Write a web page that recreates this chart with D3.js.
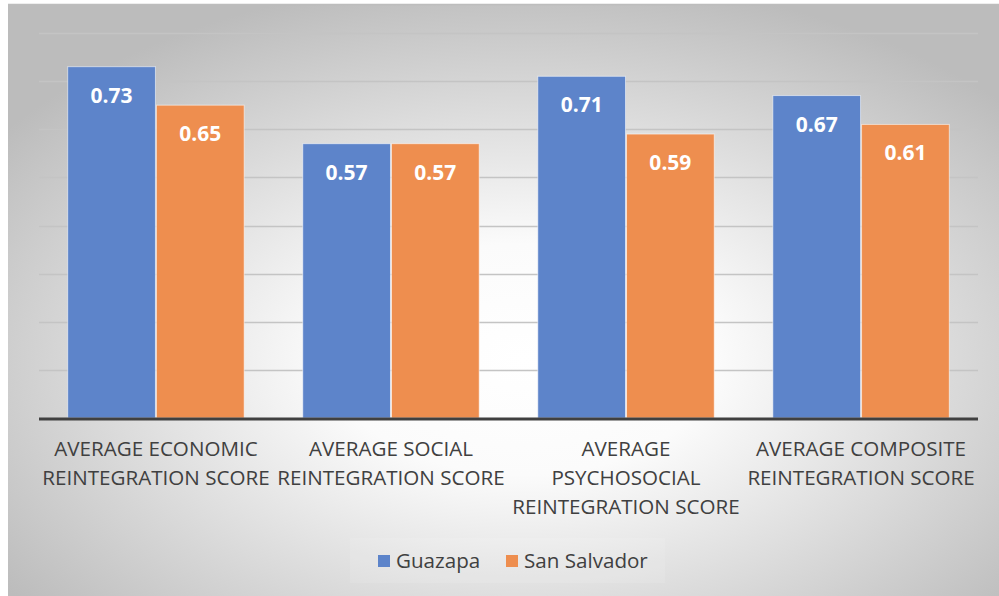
<!DOCTYPE html>
<html>
<head>
<meta charset="utf-8">
<script src="https://cdn.jsdelivr.net/npm/d3@7"></script>
<style>
  html, body { margin: 0; padding: 0; background: #fff; }
  svg { display: block; }
</style>
</head>
<body>
<div id="chart"></div>
<script>
const categories = [
  ['AVERAGE ECONOMIC', 'REINTEGRATION SCORE'],
  ['AVERAGE SOCIAL', 'REINTEGRATION SCORE'],
  ['AVERAGE', 'PSYCHOSOCIAL', 'REINTEGRATION SCORE'],
  ['AVERAGE COMPOSITE', 'REINTEGRATION SCORE'],
];
const seriesNames = ['Guazapa', 'San Salvador'];
const guazapa = [0.73, 0.57, 0.71, 0.67];
const sanSalvador = [0.65, 0.57, 0.59, 0.61];
const gridTicks = [0.1, 0.2, 0.3, 0.4, 0.5, 0.6, 0.7, 0.8];

const colours = ['#5d84ca', '#ee8e4f'];
const w = 999, h = 596;
const margin = { left: 39, right: 21, top: 33, bottom: 178 };

const svg = d3.select('#chart').append('svg')
  .attr('width', w)
  .attr('height', h);

// background panel
const grad = svg.append('defs').append('radialGradient')
  .attr('id', 'bg')
  .attr('cx', '52%').attr('cy', '60%').attr('r', '65%');
grad.append('stop').attr('offset', '0%').attr('stop-color', '#ffffff');
grad.append('stop').attr('offset', '30%').attr('stop-color', '#fbfbfb');
grad.append('stop').attr('offset', '100%').attr('stop-color', '#bcbcbc');

svg.append('rect')
  .attr('x', 8).attr('y', 4)
  .attr('width', w - 8).attr('height', h - 4)
  .attr('fill', 'url(#bg)');
svg.append('line')
  .attr('x1', 8).attr('x2', w).attr('y1', 4.5).attr('y2', 4.5)
  .attr('stroke', '#bdbdbd').attr('stroke-width', 1.5);

const x0 = d3.scaleBand()
  .domain(d3.range(categories.length))
  .range([margin.left, w - margin.right])
  .paddingInner(0.245)
  .paddingOuter(0.12);

const x1 = d3.scaleBand()
  .domain([0, 1])
  .range([0, x0.bandwidth()]);

const y = d3.scaleLinear()
  .domain([0, 0.8])
  .range([h - margin.bottom, margin.top]);

// gridlines
svg.append('g')
  .selectAll('line')
  .data(gridTicks)
  .join('line')
  .attr('x1', margin.left)
  .attr('x2', w - margin.right)
  .attr('y1', (d) => Math.round(y(d)) + 0.5)
  .attr('y2', (d) => Math.round(y(d)) + 0.5)
  .attr('stroke', '#c4c4c4')
  .attr('stroke-width', 1.5);

const rows = categories.map((c, i) => ({ i, vals: [guazapa[i], sanSalvador[i]] }));

const groups = svg.append('g')
  .selectAll('g')
  .data(rows)
  .join('g')
  .attr('transform', (d) => `translate(${x0(d.i)},0)`);

groups.selectAll('rect')
  .data((d) => d.vals.map((v, s) => ({ v, s })))
  .join('rect')
  .attr('x', (d) => x1(d.s) + 0.5)
  .attr('y', (d) => y(d.v))
  .attr('width', x1.bandwidth() - 1)
  .attr('height', (d) => y(0) - y(d.v))
  .attr('fill', (d) => colours[d.s])
  .attr('stroke', 'rgba(255,255,255,0.55)')
  .attr('stroke-width', 1);

groups.selectAll('text')
  .data((d) => d.vals.map((v, s) => ({ v, s })))
  .join('text')
  .attr('x', (d) => x1(d.s) + x1.bandwidth() / 2)
  .attr('y', (d) => y(d.v) + 36)
  .attr('text-anchor', 'middle')
  .attr('fill', '#fff')
  .attr('font-family', 'Open Sans, sans-serif')
  .attr('font-weight', 'bold')
  .attr('font-size', 21)
  .text((d) => d3.format('.2f')(d.v));

// baseline
svg.append('line')
  .attr('x1', margin.left)
  .attr('x2', w - margin.right)
  .attr('y1', y(0) + 1)
  .attr('y2', y(0) + 1)
  .attr('stroke', '#404040')
  .attr('stroke-width', 3);

// category labels
const labels = svg.append('g')
  .selectAll('text')
  .data(categories)
  .join('text')
  .attr('x', (d, i) => x0(i) + x0.bandwidth() / 2)
  .attr('y', y(0) + 38)
  .attr('text-anchor', 'middle')
  .attr('fill', '#404040')
  .attr('font-family', 'Open Sans, sans-serif')
  .attr('font-size', 20.6);

labels.selectAll('tspan')
  .data((d) => d)
  .join('tspan')
  .attr('x', function () { return this.parentNode.getAttribute('x'); })
  .attr('dy', (d, i) => (i === 0 ? 0 : 29))
  .text((d) => d);

// legend
svg.append('rect')
  .attr('x', 350).attr('y', 538)
  .attr('width', 315).attr('height', 45)
  .attr('fill', '#ffffff').attr('opacity', 0.1);

const legendX = [378, 506];
const legend = svg.append('g')
  .selectAll('g')
  .data(seriesNames)
  .join('g')
  .attr('transform', (d, i) => `translate(${legendX[i]},555)`);

legend.append('rect')
  .attr('width', 12).attr('height', 12)
  .attr('fill', (d, i) => colours[i]);

legend.append('text')
  .attr('x', 18)
  .attr('y', 13)
  .attr('fill', '#404040')
  .attr('font-family', 'Open Sans, sans-serif')
  .attr('font-size', 20.6)
  .text((d) => d);
</script>
</body>
</html>
